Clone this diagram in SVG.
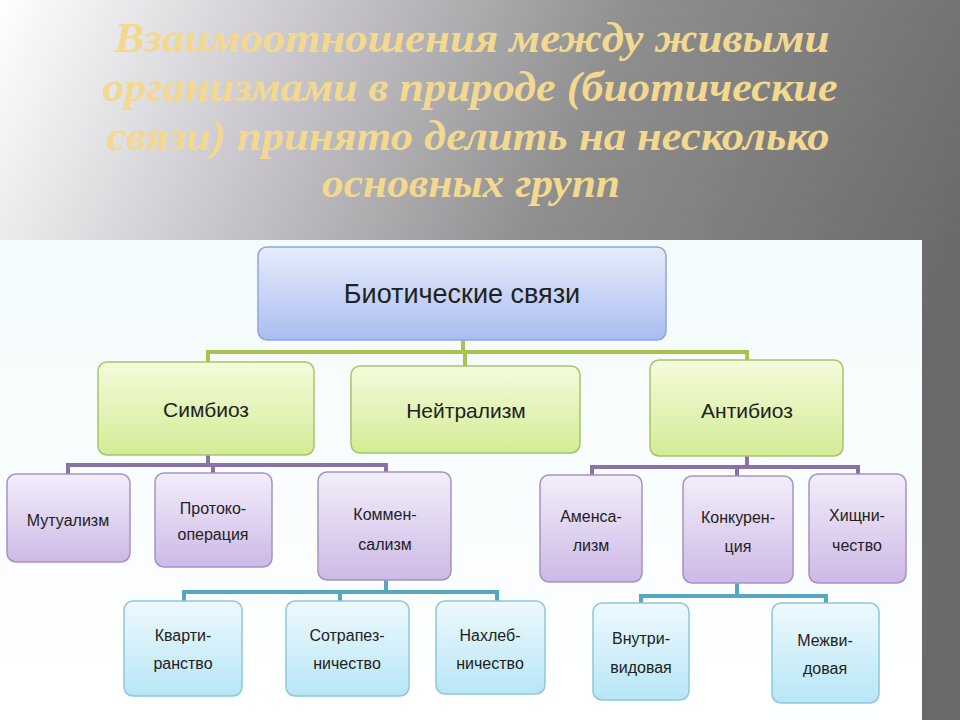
<svg xmlns="http://www.w3.org/2000/svg" width="960" height="720" viewBox="0 0 960 720">
<defs>
<linearGradient id="bg" x1="0" y1="0" x2="1" y2="0.35">
<stop offset="0" stop-color="#ffffff"/><stop offset="0.3" stop-color="#c8c6cc"/><stop offset="0.6" stop-color="#8e8e8e"/><stop offset="1" stop-color="#6a6a6a"/>
</linearGradient>
<linearGradient id="gBlue" x1="0" y1="0" x2="0" y2="1"><stop offset="0" stop-color="#e6ecfb"/><stop offset="1" stop-color="#a9bdf0"/></linearGradient>
<linearGradient id="gGreen" x1="0" y1="0" x2="0" y2="1"><stop offset="0" stop-color="#f5fbdc"/><stop offset="1" stop-color="#d3ec95"/></linearGradient>
<linearGradient id="gPurple" x1="0" y1="0" x2="0" y2="1"><stop offset="0" stop-color="#f3eefa"/><stop offset="1" stop-color="#cdb9e6"/></linearGradient>
<linearGradient id="gCyan" x1="0" y1="0" x2="0" y2="1"><stop offset="0" stop-color="#eef9fd"/><stop offset="1" stop-color="#b7e6f6"/></linearGradient>
<linearGradient id="panel" x1="0" y1="0" x2="0" y2="1"><stop offset="0" stop-color="#f3fbfc"/><stop offset="1" stop-color="#ffffff"/></linearGradient>
</defs>
<style>
.t{font-family:"Liberation Serif",serif;font-style:italic;font-weight:bold;font-size:42px;fill:#f2d98f;text-anchor:middle}
rect.n{rx:9;stroke-width:1.5}
.b{fill:url(#gBlue);stroke:#8fa6d8}
.g{fill:url(#gGreen);stroke:#a8c46a}
.p{fill:url(#gPurple);stroke:#a592c4}
.c{fill:url(#gCyan);stroke:#8cc8dc}
text.l{font-family:"Liberation Sans",Arial,sans-serif;fill:#222;text-anchor:middle}
.s1{font-size:27px}.s2{font-size:21px}.s3{font-size:16px}
.cg{stroke:#a8c24e;stroke-width:4;fill:none}
.cp{stroke:#8a72a8;stroke-width:4;fill:none}
.cc{stroke:#56a8bf;stroke-width:4;fill:none}
</style>
<rect width="960" height="720" fill="url(#bg)"/>
<rect x="0" y="240" width="922" height="480" fill="url(#panel)"/>
<g id="title">
<text class="t" x="472" y="52" textLength="715" lengthAdjust="spacingAndGlyphs">Взаимоотношения между живыми</text>
<text class="t" x="470" y="101" textLength="735" lengthAdjust="spacingAndGlyphs">организмами в природе (биотические</text>
<text class="t" x="468" y="150" textLength="723" lengthAdjust="spacingAndGlyphs">связи) принято делить на несколько</text>
<text class="t" x="471" y="197" textLength="298" lengthAdjust="spacingAndGlyphs">основных групп</text>
</g>
<g id="connectors">
<path class="cg" d="M463 340V352M208 362V352H747V362M465 352V366"/>
<path class="cp" d="M208 455V465M68 474V465H386V472M213 465V473"/>
<path class="cp" d="M747 456V467M592 475V467H858V474M737 467V476"/>
<path class="cc" d="M386 580V592M184 601V592H497V601M340 592V601"/>
<path class="cc" d="M737 583V596M641 603V596H826V603"/>
</g>
<g id="root"><rect class="n b" x="258" y="247" width="408" height="93"/><text class="l s1" x="462" y="303">Биотические связи</text></g>
<g id="symbiosis"><rect class="n g" x="98" y="362" width="216" height="93"/><text class="l s2" x="206" y="417">Симбиоз</text></g>
<g id="neutralism"><rect class="n g" x="351" y="366" width="229" height="87"/><text class="l s2" x="466" y="418">Нейтрализм</text></g>
<g id="antibiosis"><rect class="n g" x="650" y="360" width="193" height="96"/><text class="l s2" x="747" y="418">Антибиоз</text></g>
<g id="mutualism"><rect class="n p" x="7" y="474" width="123" height="88"/><text class="l s3" x="68" y="526">Мутуализм</text></g>
<g id="protocooperation"><rect class="n p" x="155" y="473" width="117" height="94"/><text class="l s3" x="213" y="514">Протоко-</text><text class="l s3" x="213" y="540">операция</text></g>
<g id="commensalism"><rect class="n p" x="318" y="472" width="133" height="108"/><text class="l s3" x="385" y="520">Коммен-</text><text class="l s3" x="385" y="550">сализм</text></g>
<g id="amensalism"><rect class="n p" x="540" y="475" width="102" height="107"/><text class="l s3" x="591" y="522">Аменса-</text><text class="l s3" x="591" y="551">лизм</text></g>
<g id="competition"><rect class="n p" x="683" y="476" width="110" height="107"/><text class="l s3" x="738" y="523">Конкурен-</text><text class="l s3" x="738" y="552">ция</text></g>
<g id="predation"><rect class="n p" x="809" y="474" width="97" height="109"/><text class="l s3" x="857" y="521">Хищни-</text><text class="l s3" x="857" y="551">чество</text></g>
<g id="quartering"><rect class="n c" x="124" y="601" width="118" height="95"/><text class="l s3" x="183" y="641">Кварти-</text><text class="l s3" x="183" y="669">ранство</text></g>
<g id="cohabitation"><rect class="n c" x="286" y="601" width="123" height="95"/><text class="l s3" x="347" y="641">Сотрапез-</text><text class="l s3" x="347" y="669">ничество</text></g>
<g id="freeloading"><rect class="n c" x="436" y="601" width="109" height="93"/><text class="l s3" x="490" y="641">Нахлеб-</text><text class="l s3" x="490" y="669">ничество</text></g>
<g id="intraspecific"><rect class="n c" x="593" y="603" width="96" height="97"/><text class="l s3" x="641" y="644">Внутри-</text><text class="l s3" x="641" y="673">видовая</text></g>
<g id="interspecific"><rect class="n c" x="772" y="603" width="107" height="100"/><text class="l s3" x="825" y="646">Межви-</text><text class="l s3" x="825" y="674">довая</text></g>
</svg>
